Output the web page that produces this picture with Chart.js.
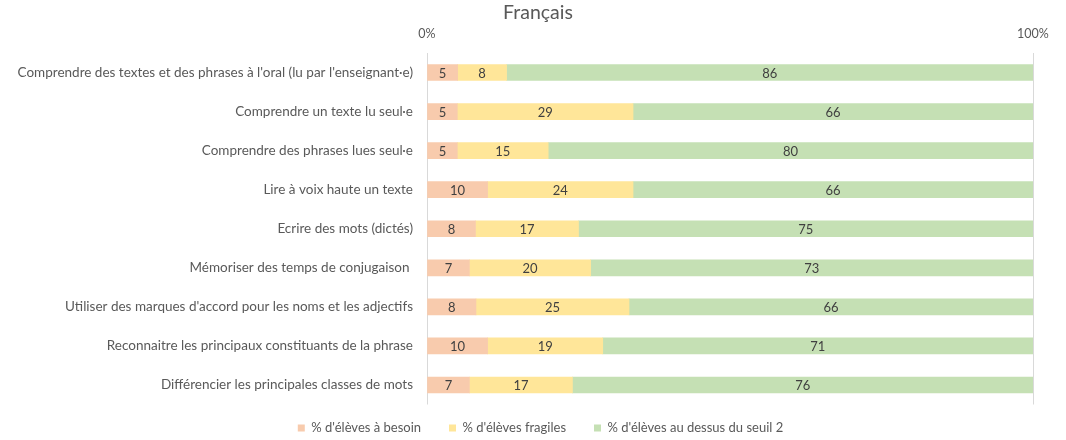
<!DOCTYPE html>
<html lang="fr">
<head>
<meta charset="utf-8">
<title>Français</title>
<script src="https://cdn.jsdelivr.net/npm/chart.js@4.4.1/dist/chart.umd.min.js"></script>
<style>
  html, body { margin: 0; padding: 0; background: #fff; }
  #wrap { width: 1066px; height: 440px; position: relative; }
</style>
</head>
<body>
<div id="wrap"><canvas id="myChartFrancais"></canvas></div>
<script>
// --- données ---
const categories = [
  "Comprendre des textes et des phrases à l'oral (lu par l'enseignant·e)",
  "Comprendre un texte lu seul·e",
  "Comprendre des phrases lues seul·e",
  "Lire à voix haute un texte",
  "Ecrire des mots (dictés)",
  "Mémoriser des temps de conjugaison ",
  "Utiliser des marques d'accord pour les noms et les adjectifs",
  "Reconnaitre les principaux constituants de la phrase",
  "Différencier les principales classes de mots"
];
const besoin   = [5, 5, 5, 10, 8, 7, 8, 10, 7];
const fragiles = [8, 29, 15, 24, 17, 20, 25, 19, 17];
const auDessus = [86, 66, 80, 66, 75, 73, 66, 71, 76];
const seriesNames = ["% d'élèves à besoin", "% d'élèves fragiles", "% d'élèves au dessus du seuil 2"];
const xTickLabels = ['0%', '100%'];
const chartTitle = 'Français';

const textColor = '#595959';
const fontFamily = 'Lato, "Open Sans", sans-serif';

// graphique empilé à 100 % : chaque ligne ramenée à son total
const totals = categories.map((c, i) => besoin[i] + fragiles[i] + auDessus[i]);
const toPct = (arr) => arr.map((v, i) => v / totals[i] * 100);

// étiquettes de valeurs dans les barres
const valueLabels = {
  id: 'valueLabels',
  afterDatasetsDraw(chart) {
    const ctx = chart.ctx;
    ctx.save();
    ctx.font = '13px ' + fontFamily;
    ctx.fillStyle = '#404040';
    ctx.textAlign = 'center';
    ctx.textBaseline = 'middle';
    chart.data.datasets.forEach((ds, di) => {
      const meta = chart.getDatasetMeta(di);
      meta.data.forEach((bar, i) => {
        ctx.fillText(ds.raw[i], (bar.x + bar.base) / 2, bar.y + 1);
      });
    });
    ctx.restore();
  }
};

// titre placé comme dans l'original
const titrePlugin = {
  id: 'titrePlugin',
  afterDraw(chart) {
    const ctx = chart.ctx;
    ctx.save();
    ctx.font = '19.5px ' + fontFamily;
    ctx.fillStyle = textColor;
    ctx.textAlign = 'center';
    ctx.textBaseline = 'alphabetic';
    ctx.fillText(chartTitle, 538, 19);
    ctx.restore();
  }
};

// la légende est un peu décalée dans l'original (vers la droite et vers le haut)
const legendShift = {
  id: 'legendShift',
  afterLayout(chart) {
    const lg = chart.legend;
    lg.left += 24; lg.right += 24;
    lg.top -= 11; lg.bottom -= 11;
  }
};

const chartFrancais = document.getElementById('myChartFrancais');

new Chart(chartFrancais, {
  type: 'bar',
  data: {
    labels: categories,
    datasets: [
      { label: seriesNames[0], data: toPct(besoin),   raw: besoin,   backgroundColor: '#F8CBAD' },
      { label: seriesNames[1], data: toPct(fragiles), raw: fragiles, backgroundColor: '#FFE699' },
      { label: seriesNames[2], data: toPct(auDessus), raw: auDessus, backgroundColor: '#C5E0B4' }
    ]
  },
  options: {
    indexAxis: 'y',
    responsive: true,
    maintainAspectRatio: false,
    animation: false,
    layout: { padding: { top: 14, right: 33, bottom: -15.5, left: 0 } },
    datasets: {
      bar: { barThickness: 16, borderWidth: 0 }
    },
    scales: {
      x: {
        position: 'top',
        stacked: true,
        min: 0,
        max: 100,
        ticks: {
          stepSize: 100,
          padding: 12,
          color: textColor,
          font: { family: fontFamily, size: 12.5 },
          callback: (v, i) => xTickLabels[i]
        },
        grid: { color: '#d9d9d9', drawTicks: false },
        border: { display: false }
      },
      y: {
        stacked: true,
        ticks: {
          padding: 6,
          color: textColor,
          font: { family: fontFamily, size: 13.5 }
        },
        grid: { display: false },
        border: { display: false },
        afterFit: (scale) => { scale.width = 427; }
      }
    },
    plugins: {
      legend: {
        position: 'bottom',
        labels: {
          boxWidth: 7,
          boxHeight: 7,
          padding: 28,
          color: textColor,
          font: { family: fontFamily, size: 13 }
        }
      },
      tooltip: { enabled: false }
    }
  },
  plugins: [valueLabels, titrePlugin, legendShift]
});
</script>
</body>
</html>
